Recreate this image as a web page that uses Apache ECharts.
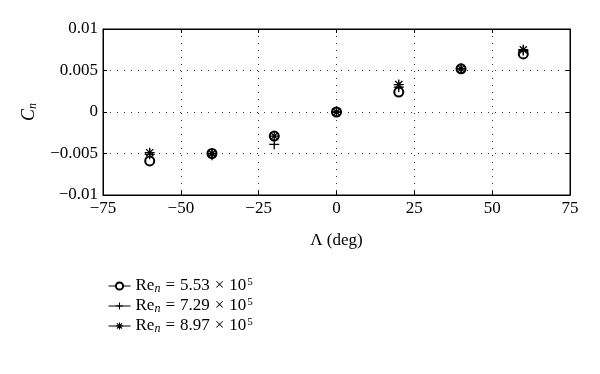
<!DOCTYPE html>
<html><head><meta charset="utf-8">
<script src="https://cdn.jsdelivr.net/npm/echarts@6/dist/echarts.min.js"></script>
<style>html,body{margin:0;padding:0;background:#fff}#c{width:600px;height:374px}</style>
</head><body><div id="c"></div>
<script>
var angles = [-60, -40, -20, 0, 20, 40, 60];
var re553 = [-0.0059, -0.0050, -0.0029, 0.0000, 0.0024, 0.0052, 0.0070];
var re729 = [-0.0051, -0.0052, -0.0039, 0.0000, 0.0030, 0.0052, 0.0074];
var re897 = [-0.0049, -0.0050, -0.0029, 0.0000, 0.0033, 0.0052, 0.0075];
var seriesNames = ['Re553', 'Re729', 'Re897'];
var legendValues = ['5.53', '7.29', '8.97'];
var xTicks = [-75, -50, -25, 0, 25, 50, 75];
var yTicks = [-0.01, -0.005, 0, 0.005, 0.01];

var FONT = '"Liberation Serif", "DejaVu Serif", serif';
function pair(vals){ return angles.map(function(a,i){ return [a, vals[i]]; }); }
function fmtNum(v){ var s = String(+v.toFixed(4)); return s.replace('-', '\u2212'); }

var plusPath = 'path://M0,-5L0,5M-5,0L5,0';
var starPath = 'path://M0,-5L0,5M-5,0L5,0M-3.54,-3.54L3.54,3.54M-3.54,3.54L3.54,-3.54';

var symbols = ['emptyCircle', plusPath, starPath];
var sizes = [9, 10, 10];
var datas = [re553, re729, re897];

var series = datas.map(function(d, i){
  return {
    name: seriesNames[i], type: 'line', data: pair(d),
    symbol: symbols[i], symbolSize: sizes[i], showSymbol: true,
    lineStyle: {opacity: 0, width: 0},
    itemStyle: {color: '#000', borderColor: '#000', borderWidth: 1.3},
    z: 3 + i, animation: false
  };
});

var axisBase = {
  axisLine: {show: true, onZero: false, lineStyle: {color: '#000'}},
  axisTick: {show: true, inside: true, length: 4, lineStyle: {color: '#000'}}
};

var chart = echarts.init(document.getElementById('c'), null, {renderer: 'canvas'});
chart.setOption({
  animation: false,
  backgroundColor: '#fff',
  grid: {left: 103, right: 30, top: 29, bottom: 179, show: true, borderColor: '#000', borderWidth: 1},
  legend: {
    orient: 'vertical', left: 103, top: 271, itemGap: 0, itemWidth: 22, itemHeight: 9,
    data: seriesNames,
    lineStyle: {opacity: 1, width: 1, color: '#000'},
    itemStyle: {borderWidth: 1.1},
    formatter: function(name){
      var v = legendValues[seriesNames.indexOf(name)];
      return '{a|Re}{i|n}{op|=}{a|' + v + '}{op|\u00d7}{a|10}{s|5}';
    },
    textStyle: {
      fontFamily: FONT, fontSize: 17, color: '#000', lineHeight: 20,
      rich: {
        a: {fontFamily: FONT, fontSize: 17, color: '#000', lineHeight: 20},
        op: {fontFamily: FONT, fontSize: 17, color: '#000', lineHeight: 20, padding: [0, 5, 0, 5]},
        i: {fontFamily: FONT, fontSize: 12, fontStyle: 'italic', color: '#000', lineHeight: 20, padding: [6, 0, 0, 0]},
        s: {fontFamily: FONT, fontSize: 11, color: '#000', lineHeight: 20, padding: [0, 0, 7, 1]}
      }
    }
  },
  xAxis: [Object.assign({
    type: 'value', min: -75, max: 75, interval: 25,
    name: '\u039b (deg)', nameLocation: 'middle', nameGap: 37,
    nameTextStyle: {fontFamily: FONT, fontSize: 17, color: '#000'},
    axisLabel: {fontFamily: FONT, fontSize: 17, color: '#000', margin: 5, formatter: function(v){ return fmtNum(v); }},
    splitLine: {show: true, lineStyle: {color: '#333', type: [1, 6], width: 1}}
  }, axisBase), Object.assign({
    type: 'value', min: -75, max: 75, interval: 25, position: 'top',
    axisLabel: {show: false}, splitLine: {show: false}
  }, axisBase)],
  yAxis: [Object.assign({
    type: 'value', min: -0.01, max: 0.01, interval: 0.005,
    name: '{c|C}{n|n}', nameLocation: 'middle', nameGap: 63, nameRotate: 90,
    nameTextStyle: {
      fontFamily: FONT, color: '#000',
      rich: {
        c: {fontFamily: FONT, fontSize: 18, fontStyle: 'italic', color: '#000'},
        n: {fontFamily: FONT, fontSize: 12, fontStyle: 'italic', color: '#000', padding: [8, 0, 0, 0]}
      }
    },
    axisLabel: {fontFamily: FONT, fontSize: 17, color: '#000', margin: 5, formatter: function(v){ return fmtNum(v); }},
    splitLine: {show: true, lineStyle: {color: '#333', type: [1, 6], width: 1}}
  }, axisBase), Object.assign({
    type: 'value', min: -0.01, max: 0.01, interval: 0.005, position: 'right',
    axisLabel: {show: false}, splitLine: {show: false}
  }, axisBase)],
  series: series
});
</script></body></html>
